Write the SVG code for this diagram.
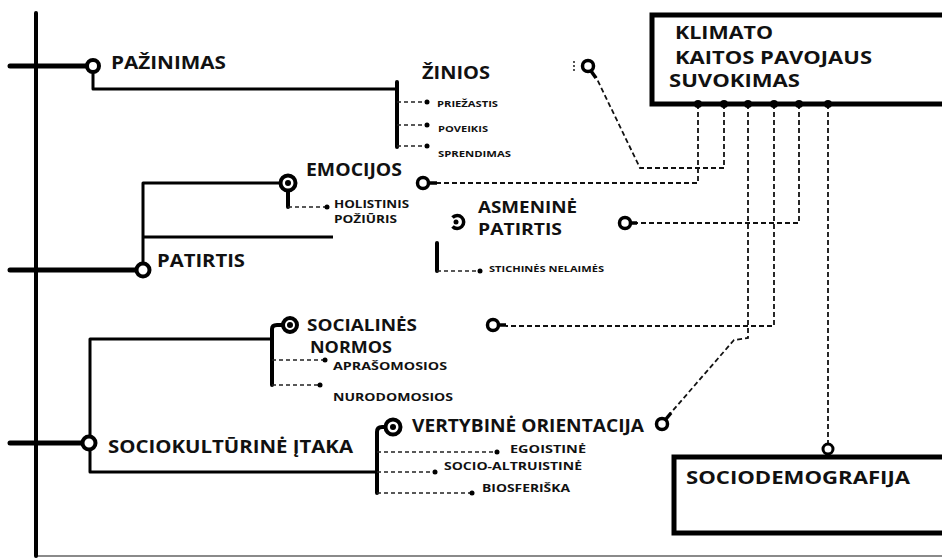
<svg xmlns="http://www.w3.org/2000/svg" width="942" height="558" viewBox="0 0 942 558">
<style>
.big{font-family:"Open Sans","Liberation Sans",sans-serif;font-weight:bold;font-size:17px;fill:#111}
.big16{font-family:"Open Sans","Liberation Sans",sans-serif;font-weight:bold;font-size:16px;fill:#111}
.sm{font-family:"Open Sans","Liberation Sans",sans-serif;font-weight:bold;font-size:9.5px;fill:#111}
.md{font-family:"Open Sans","Liberation Sans",sans-serif;font-weight:bold;font-size:10.5px;fill:#111}
.thick{stroke:#000;stroke-width:5;fill:none;stroke-linecap:round}
.solid{stroke:#000;stroke-width:3;fill:none;stroke-linejoin:round}
.bar{stroke:#000;stroke-width:4;fill:none;stroke-linecap:round}
.dash{stroke:#111;stroke-width:1.8;fill:none;stroke-dasharray:5 3}
.sdash{stroke:#222;stroke-width:1.5;fill:none;stroke-dasharray:4 3}
.ring{stroke:#000;stroke-width:4;fill:#fff}
.lnk{stroke:#000;stroke-width:3.5;fill:#fff}
.dot{fill:#000}
</style>
<rect width="942" height="558" fill="#fff"/>
<g id="frame">
<line x1="36" y1="556" x2="942" y2="556" stroke="#8a8a8a" stroke-width="2"/>
<line x1="36" y1="13" x2="36" y2="556" class="bar"/>
</g>
<g id="connectors">
<path class="dash" d="M698,104 V183 H437"/>
<path class="dash" d="M724,104 V168 H640 L596,77"/>
<path class="dash" d="M748,104 V338 L734,340 L669,415"/>
<path class="dash" d="M774,104 V326 H506"/>
<path class="dash" d="M799,104 V223 H637"/>
<path class="dash" d="M828,104 V443"/>
</g>
<g id="klimato">
<rect x="652" y="15" width="300" height="89" fill="#fff" stroke="#000" stroke-width="5"/>
<text class="big" x="675" y="39" textLength="98" lengthAdjust="spacingAndGlyphs">KLIMATO</text>
<text class="big" x="675" y="64" textLength="197" lengthAdjust="spacingAndGlyphs">KAITOS PAVOJAUS</text>
<text class="big" x="669" y="87" textLength="131" lengthAdjust="spacingAndGlyphs">SUVOKIMAS</text>
<circle class="dot" cx="698" cy="104" r="4"/>
<circle class="dot" cx="724" cy="104" r="4"/>
<circle class="dot" cx="748" cy="104" r="4"/>
<circle class="dot" cx="774" cy="104" r="4"/>
<circle class="dot" cx="799" cy="104" r="4"/>
<circle class="dot" cx="828" cy="104" r="4"/>
</g>
<g id="sociodemografija">
<rect x="674" y="457" width="290" height="76" fill="#fff" stroke="#000" stroke-width="5"/>
<circle cx="828" cy="449" r="5" fill="#fff" stroke="#000" stroke-width="3"/>
<text class="big" x="686" y="484" textLength="224" lengthAdjust="spacingAndGlyphs">SOCIODEMOGRAFIJA</text>
</g>
<g id="pazinimas">
<line class="thick" x1="10" y1="66" x2="86" y2="66"/>
<path class="solid" d="M93,72 V89 H397"/>
<circle class="ring" cx="93" cy="66" r="6"/>
<text class="big" x="111" y="69" textLength="115" lengthAdjust="spacingAndGlyphs">PAŽINIMAS</text>
</g>
<g id="zinios">
<line class="bar" x1="397" y1="82" x2="397" y2="147"/>
<path class="sdash" d="M397,102 H425 M397,125 H425 M397,146 H425"/>
<circle class="dot" cx="427" cy="102" r="2.5"/>
<circle class="dot" cx="427" cy="125" r="2.5"/>
<circle class="dot" cx="427" cy="146" r="2.5"/>
<text class="big" x="422" y="79" textLength="68" lengthAdjust="spacingAndGlyphs">ŽINIOS</text>
<text class="sm" x="437" y="107" textLength="61" lengthAdjust="spacingAndGlyphs">PRIEŽASTIS</text>
<text class="sm" x="438" y="132" textLength="50" lengthAdjust="spacingAndGlyphs">POVEIKIS</text>
<text class="sm" x="438" y="157" textLength="73" lengthAdjust="spacingAndGlyphs">SPRENDIMAS</text>
<circle class="dot" cx="574" cy="62" r="0.9"/>
<circle class="dot" cx="574" cy="66" r="0.9"/>
<circle class="dot" cx="574" cy="70" r="0.9"/>
<line x1="591" y1="71" x2="596" y2="78" stroke="#000" stroke-width="3.5"/>
<circle class="lnk" cx="588" cy="66" r="5.5"/>
</g>
<g id="patirtis">
<line class="thick" x1="10" y1="270" x2="136" y2="270"/>
<path class="solid" d="M143,264 V183 H280"/>
<line class="solid" x1="143" y1="237" x2="333" y2="237"/>
<circle class="ring" cx="143" cy="270" r="6.5"/>
<text class="big" x="157" y="267" textLength="88" lengthAdjust="spacingAndGlyphs">PATIRTIS</text>
</g>
<g id="emocijos">
<line class="bar" x1="288" y1="190" x2="288" y2="207"/>
<path class="sdash" d="M288,207 H325"/>
<circle class="dot" cx="327" cy="207" r="2.5"/>
<circle class="ring" cx="288" cy="183" r="7.5"/>
<circle class="dot" cx="288" cy="183" r="3"/>
<text class="big" x="306" y="176" textLength="96" lengthAdjust="spacingAndGlyphs">EMOCIJOS</text>
<text class="md" x="334" y="208" textLength="75" lengthAdjust="spacingAndGlyphs">HOLISTINIS</text>
<text class="md" x="334" y="223" textLength="63" lengthAdjust="spacingAndGlyphs">POŽIŪRIS</text>
<line x1="428" y1="183" x2="437" y2="183" stroke="#000" stroke-width="3.5"/>
<circle class="lnk" cx="423" cy="183" r="5.5"/>
</g>
<g id="asmenine">
<path d="M452.5,217.5 A6.5,6.5 0 1 1 452.5,226.5" fill="none" stroke="#000" stroke-width="3.5"/>
<circle class="dot" cx="456" cy="222" r="2.5"/>
<text class="big16" x="478" y="213" textLength="99" lengthAdjust="spacingAndGlyphs">ASMENINĖ</text>
<text class="big16" x="478" y="235" textLength="84" lengthAdjust="spacingAndGlyphs">PATIRTIS</text>
<line class="bar" x1="437" y1="243" x2="437" y2="271"/>
<path class="sdash" d="M437,271 H478"/>
<circle class="dot" cx="480" cy="271" r="2.5"/>
<text class="sm" x="489" y="272" textLength="115" lengthAdjust="spacingAndGlyphs">STICHINĖS NELAIMĖS</text>
<line x1="630" y1="223" x2="637" y2="223" stroke="#000" stroke-width="3.5"/>
<circle class="lnk" cx="625" cy="223" r="5.5"/>
</g>
<g id="sociokulturine">
<line class="thick" x1="10" y1="443" x2="82" y2="443"/>
<path class="solid" d="M272,339 H90 V472 H377"/>
<circle class="ring" cx="89" cy="443" r="6.5"/>
<text class="big" x="108" y="453" textLength="245" lengthAdjust="spacingAndGlyphs">SOCIOKULTŪRINĖ ĮTAKA</text>
</g>
<g id="socialines">
<path class="bar" d="M272,385 V329 Q272,325 277,325 H283"/>
<path class="sdash" d="M272,360 H323 M272,385 H318"/>
<circle class="dot" cx="325" cy="360" r="2.5"/>
<circle class="dot" cx="320" cy="385" r="2.5"/>
<circle class="ring" cx="290" cy="325" r="7"/>
<circle class="dot" cx="290" cy="325" r="3"/>
<text class="big16" x="307" y="331" textLength="110" lengthAdjust="spacingAndGlyphs">SOCIALINĖS</text>
<text class="big16" x="310" y="353" textLength="82" lengthAdjust="spacingAndGlyphs">NORMOS</text>
<text class="md" x="333" y="370" textLength="114" lengthAdjust="spacingAndGlyphs">APRAŠOMOSIOS</text>
<text class="md" x="333" y="401" textLength="120" lengthAdjust="spacingAndGlyphs">NURODOMOSIOS</text>
<line x1="498" y1="325" x2="506" y2="325" stroke="#000" stroke-width="3.5"/>
<circle class="lnk" cx="493" cy="325" r="5.5"/>
</g>
<g id="vertybine">
<path class="bar" d="M377,493 V432 Q377,427 382,427 H386"/>
<path class="sdash" d="M377,452 H495 M377,472 H433 M377,493 H470"/>
<circle class="dot" cx="497" cy="452" r="2.5"/>
<circle class="dot" cx="435" cy="472" r="2.5"/>
<circle class="dot" cx="472" cy="493" r="2.5"/>
<circle class="ring" cx="393" cy="427" r="7.5"/>
<circle class="dot" cx="393" cy="427" r="3"/>
<text class="big" x="412" y="432" textLength="232" lengthAdjust="spacingAndGlyphs">VERTYBINĖ ORIENTACIJA</text>
<text class="md" x="510" y="453" textLength="76" lengthAdjust="spacingAndGlyphs">EGOISTINĖ</text>
<text class="md" x="444" y="470" textLength="138" lengthAdjust="spacingAndGlyphs">SOCIO-ALTRUISTINĖ</text>
<text class="md" x="482" y="492" textLength="88" lengthAdjust="spacingAndGlyphs">BIOSFERIŠKA</text>
<line x1="666" y1="419" x2="671" y2="413" stroke="#000" stroke-width="3.5"/>
<circle class="lnk" cx="662" cy="424" r="5.5"/>
</g>
</svg>
